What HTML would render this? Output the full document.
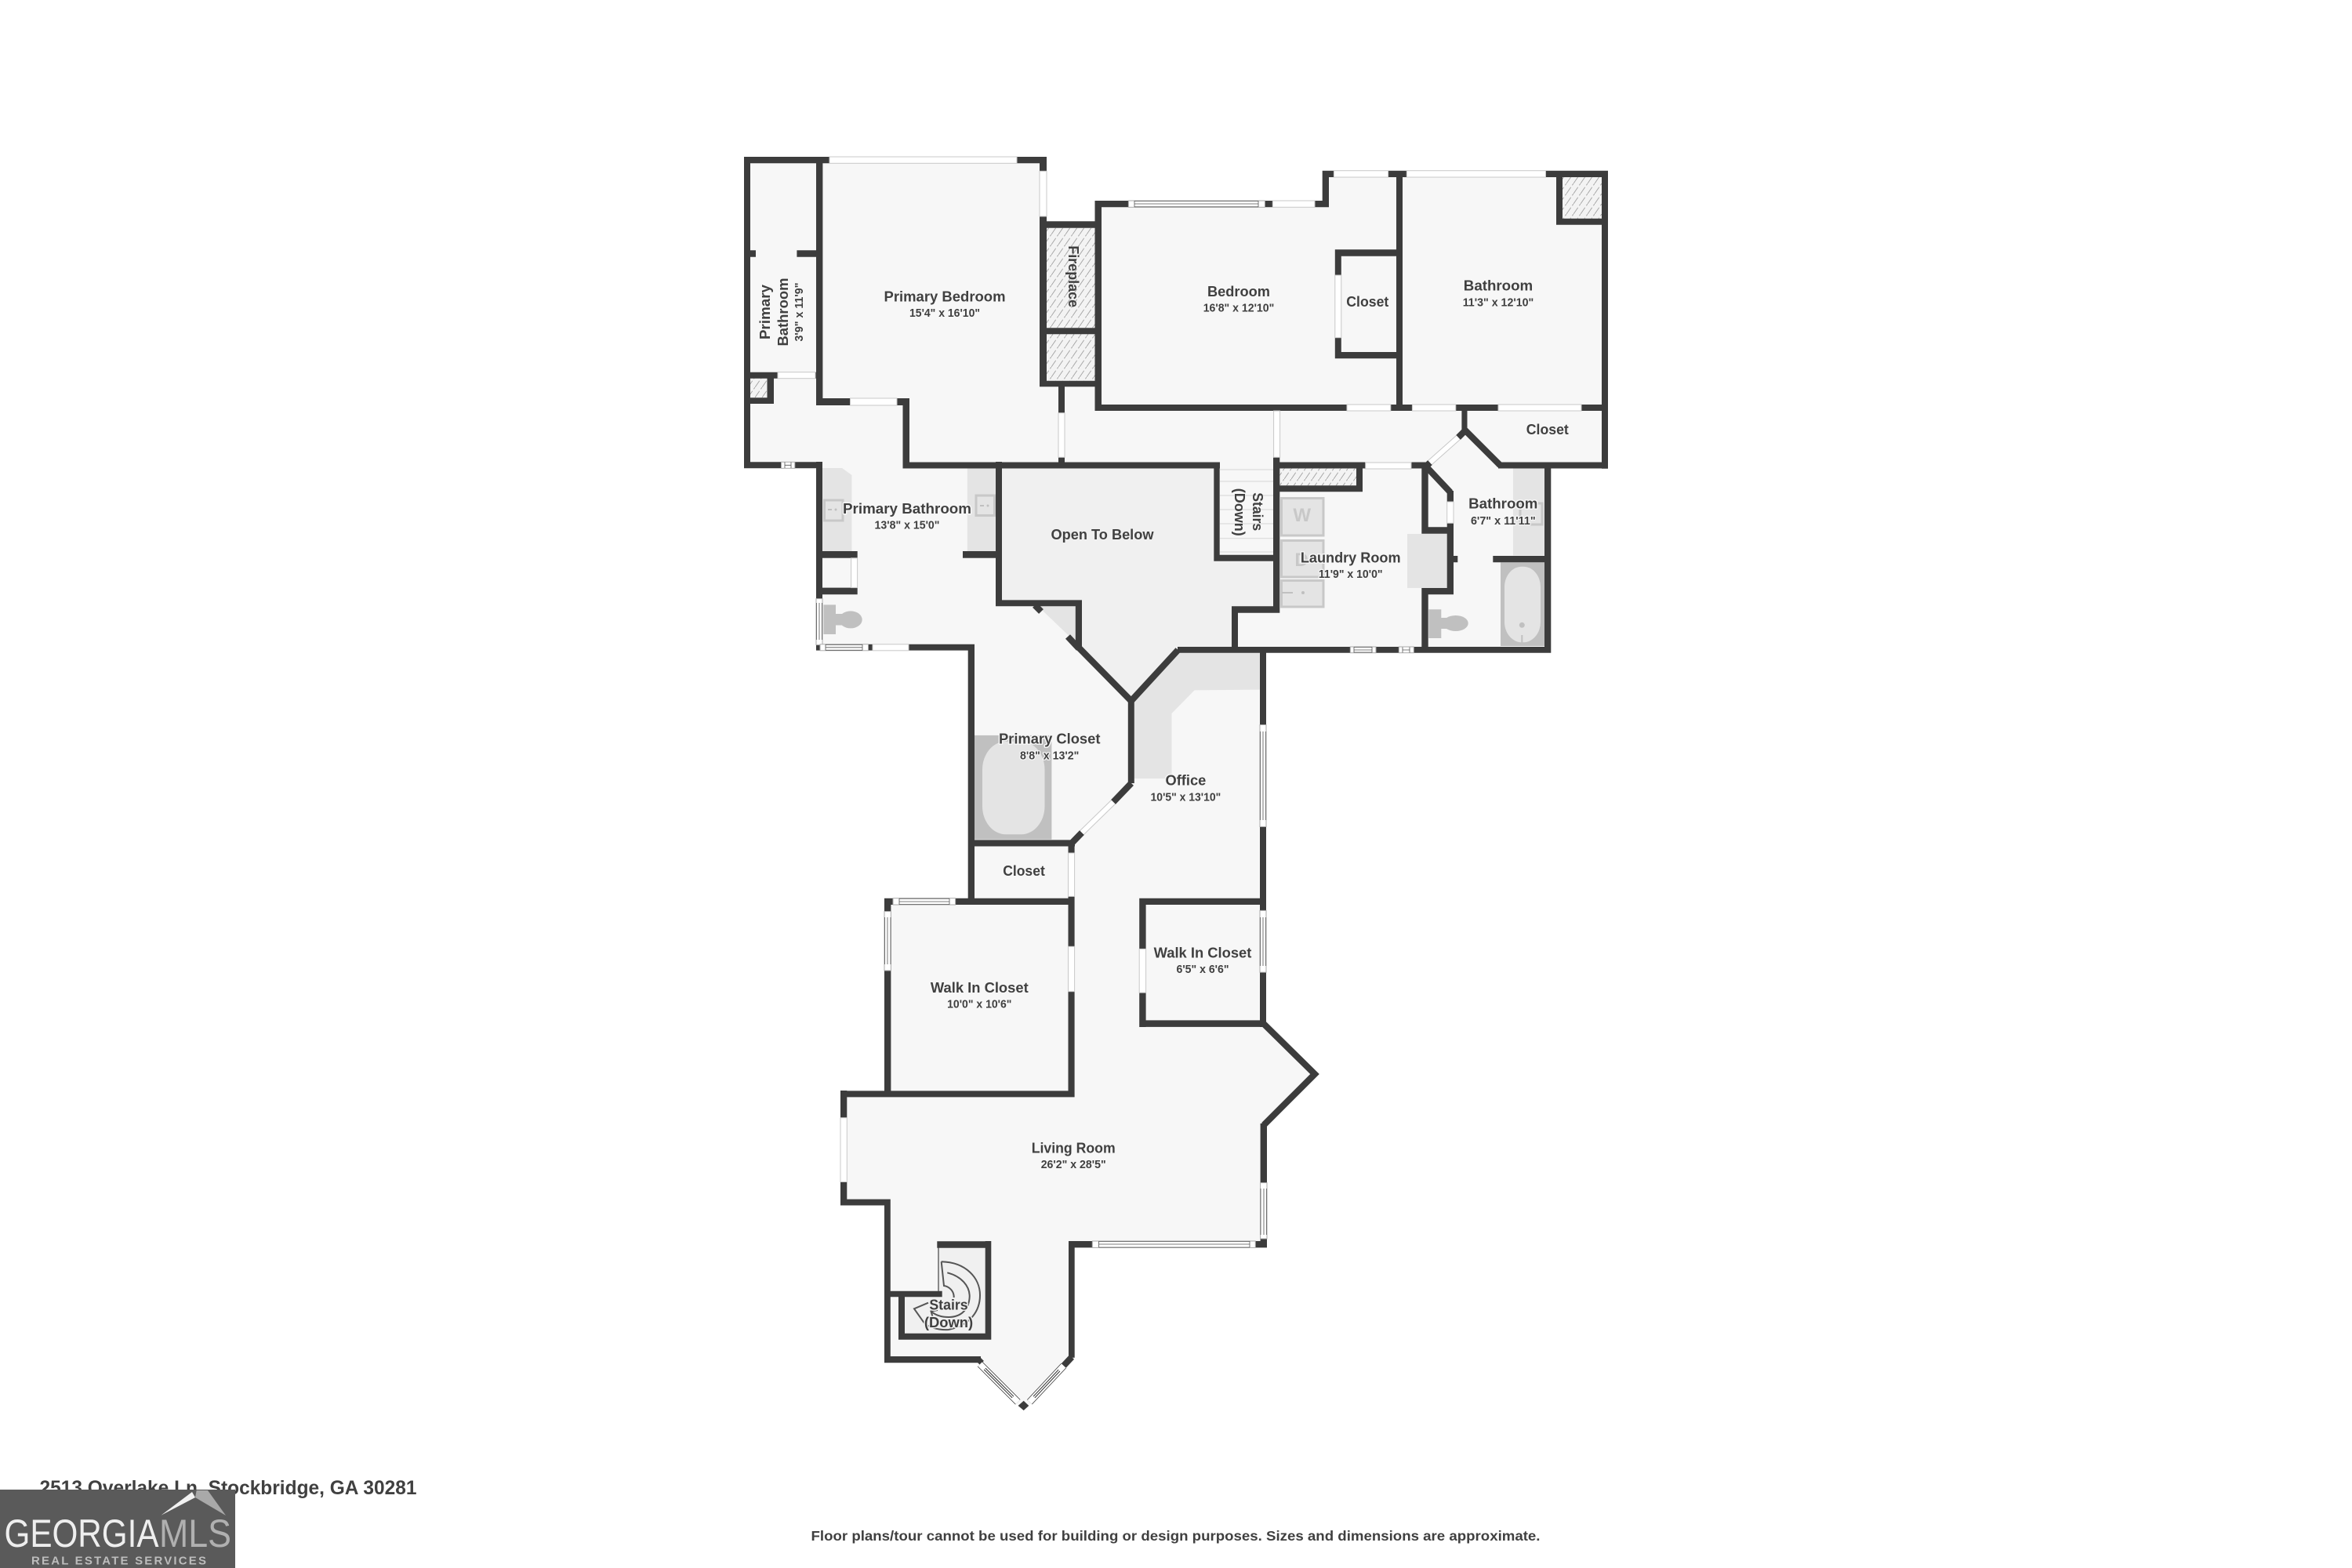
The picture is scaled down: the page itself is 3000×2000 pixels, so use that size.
<!DOCTYPE html>
<html><head><meta charset="utf-8"><title>Floor plan</title>
<style>
html,body{margin:0;padding:0;background:#fff}
svg{display:block}
text{font-family:"Liberation Sans",sans-serif;font-weight:bold;fill:#404040;text-anchor:middle}
.n{font-size:18.5px;paint-order:stroke;stroke:#f7f7f7;stroke-width:3px;stroke-linejoin:round}
.d{font-size:14.5px;paint-order:stroke;stroke:#f7f7f7;stroke-width:2.5px;stroke-linejoin:round}
.win{fill:#fff;stroke:#c8c8c8;stroke-width:1}
</style></head><body>
<svg xmlns="http://www.w3.org/2000/svg" width="3000" height="2000" viewBox="0 0 3000 2000">
<defs>
<pattern id="h" width="9" height="13" patternUnits="userSpaceOnUse">
<rect width="9" height="13" fill="#f3f3f3"/>
<path d="M0 13L9 0" stroke="#a0a0a0" stroke-width="0.9" stroke-dasharray="10 3"/>
</pattern>
</defs>
<rect width="3000" height="2000" fill="#fff"/>

<!-- floor -->
<polygon fill="#f7f7f7" points="949,200 1335,200 1335,282 1405,282 1405,256 1695,256 1695,218 2051,218 2051,597.7 1978,597.7 1978,832.7 1615,832.7 1615,1305 1682,1370 1616,1433 1616,1591 1370.5,1591 1370.5,1732 1305.7,1799 1247,1738 1128,1738 1128,1537 1072,1537 1072,1391 1128,1391 1128,1146 1235,1146 1235,829.6 1041,829.6 1041,597 949,597"/>
<!-- open to below -->
<polygon fill="#f0f0f0" points="1278,597 1548,597 1548,716 1624,716 1624,773.3 1571,773.3 1571,825 1502,825 1442,894 1375,826 1375,770 1278,770"/>

<!-- hatches -->
<rect x="1335" y="290.7" width="61.5" height="127.6" fill="url(#h)"/>
<rect x="1335" y="426" width="61.5" height="60" fill="url(#h)"/>
<rect x="957" y="482.7" width="21.5" height="24.6" fill="url(#h)"/>
<rect x="1993" y="226" width="50" height="52.7" fill="url(#h)"/>
<rect x="1632.3" y="597.3" width="97.7" height="22" fill="url(#h)"/>

<!-- cabinets -->
<g fill="#e4e4e4">
<polygon points="1049,597 1074,597 1086.5,606 1086.5,703 1049,703"/>
<rect x="1233.8" y="597.5" width="36.2" height="105.5"/>
<polygon points="1324,773.2 1371.8,773.2 1371.8,819"/>
<polygon points="1446.8,894 1502.6,832.5 1607.5,832.5 1607.5,879.6 1523.6,880.4 1494.5,910 1494.5,993 1446.8,993"/>
<rect x="1795" y="681" width="51" height="69"/>
<rect x="1930" y="597.5" width="40" height="111"/>
</g>
<!-- sinks -->
<g fill="#e4e4e4" stroke="#c8c8c8" stroke-width="3">
<rect x="1051.5" y="638" width="23.5" height="26"/>
<rect x="1245" y="632" width="23.5" height="25.5"/>
<rect x="1939" y="642" width="28" height="27"/>
<rect x="1634.5" y="635.5" width="53.5" height="47.5"/>
<rect x="1634.5" y="689.5" width="53.5" height="46.5"/>
<rect x="1634.5" y="740.5" width="53.5" height="33.5"/>
</g>
<g fill="#c0c0c0">
<rect x="1056" y="649" width="5" height="2"/><circle cx="1066" cy="650" r="1.5"/>
<rect x="1250" y="644" width="5" height="2"/><circle cx="1260" cy="645" r="1.5"/>
<rect x="1635" y="755" width="14" height="2"/><circle cx="1662" cy="756" r="2"/>
</g>
<text x="1660.7" y="665" style="font-size:24px;fill:#c8c8c8">W</text>
<text x="1660" y="722" style="font-size:24px;fill:#c8c8c8">D</text>

<!-- toilets -->
<g fill="#c0c0c0">
<rect x="1050.4" y="771.4" width="15.6" height="37.6"/><rect x="1066" y="783" width="10" height="14.5"/><ellipse cx="1085" cy="790.4" rx="14.7" ry="11"/>
<rect x="1822.3" y="777.3" width="16" height="36.7"/><rect x="1838" y="788" width="10" height="14"/><ellipse cx="1856.7" cy="795" rx="16" ry="10"/>
</g>
<!-- tubs -->
<rect x="1243" y="937.9" width="98.4" height="132.8" fill="#c0c0c0"/>
<rect x="1253" y="945.7" width="79.5" height="118.6" rx="30" ry="36" fill="#e4e4e4"/>
<rect x="1914" y="717.3" width="56" height="106.7" fill="#c0c0c0"/>
<rect x="1919" y="722.7" width="46" height="96.6" rx="22" ry="26" fill="#e4e4e4"/>
<circle cx="1941.3" cy="797.3" r="3.5" fill="#c0c0c0"/><rect x="1940.3" y="810" width="2" height="9.5" fill="#c0c0c0"/>

<!-- straight stairs -->
<rect x="1555.7" y="597.3" width="68.3" height="111" fill="#f7f7f7"/>
<path d="M1556 599H1624M1556 614H1624M1556 632H1624M1556 650H1624M1556 668H1624M1556 686.7H1624M1556 704H1624" stroke="#dcdcdc" stroke-width="1.2" fill="none"/>

<!-- spiral stair area -->
<polygon fill="#f0f0f0" points="1197,1591.7 1256.7,1591.7 1256.7,1700.7 1154,1700.7 1154,1654 1197,1654"/>
<path d="M1197 1591V1647" stroke="#666" stroke-width="1.5"/>
<g fill="none" stroke="#555" stroke-width="2">
<path d="M1200.7 1609.3C1232 1610 1250 1630 1250 1652C1250 1672 1238 1690 1210 1696C1196 1697 1182 1692 1178.3 1686.7L1166 1669.3L1184 1661.7"/>
<path d="M1200.7 1609.3L1204 1640C1211 1641 1217 1647 1216.7 1655"/>
<path d="M1208.3 1623.3C1226 1628 1237 1640 1236.7 1654C1236 1670 1226 1680 1210 1680C1200 1680 1193 1677 1188.3 1673.3"/>
<path d="M1196 1671L1187.5 1672.5L1190 1681"/>
</g>

<!-- walls -->
<path fill="#3c3c3c" d="
M949 200H1058V208.3H949Z M1297 200H1335V208.3H1297Z M949 200H957V597.3H949Z M1041 200H1049.4V517H1041Z
M957 319.3H964V327.7H957Z M1016.4 319.3H1041V327.7H1016.4Z
M949 474.7H992V482.7H949Z M1040 474.7H1049V482.7H1040Z M978.5 474.7H987V515H978.5Z M949 507.3H987V515H949Z
M1041 508H1084.5V517H1041Z M1144 508H1160V517H1144Z M1151.5 508H1160V597.3H1151.5Z
M949 589.3H996.5V597.3H949Z M1013.8 589.3H1049V597.3H1013.8Z
M1326 200H1335V218.3H1326Z M1326 276H1335V493.3H1326Z
M1326 282.3H1405V290.7H1326Z M1326 418.3H1405V426.3H1326Z M1326 485.7H1405V493.3H1326Z
M1396.5 256H1405V524H1396.5Z
M1396.5 256H1439.4V264.3H1396.5Z M1613.5 256H1623.3V264.3H1613.5Z M1677 256H1695V264.3H1677Z
M1686.7 217.7H1695V264.3H1686.7Z
M1686.7 217.7H1701.4V226H1686.7Z M1770.6 217.7H1794.3V226H1770.6Z M1971.5 217.7H2051V226H1971.5Z
M1781 217.7H1789V524H1781Z
M1702.8 318.3H1781V326.7H1702.8Z M1702.8 318.3H1710.8V351H1702.8Z M1702.8 430.7H1710.8V457.3H1702.8Z M1702.8 449H1781V457.3H1702.8Z
M1985 217.7H1993V286.7H1985Z M1985 278.7H2051V286.7H1985Z M2043 217.7H2051V597.7H2043Z
M1396.5 516H1718V524H1396.5Z M1773.8 516H1801.4V524H1773.8Z M1856.8 516H1911V524H1856.8Z M2017 516H2051V524H2017Z
M1350 493H1358V526.7H1350Z M1350 583.3H1358V597H1350Z
M1864.4 524H1871.5V550H1864.4Z
M1151.5 589.5H1556V597.5H1151.5Z M1624 589.5H1741.7V597.5H1624Z M1800 589.5H1821.7V597.5H1800Z M1911 589.5H2051V597.5H1911Z
M1970 589.7H1978.3V832.7H1970Z
M1548.3 590H1555.7V715.7H1548.3Z M1548.3 707.7H1632V715.7H1548.3Z
M1624 583.3H1632.3V781.7H1624Z M1571 773.3H1632.3V781.7H1571Z M1571 773.3H1579V832H1571Z
M1502 825H1722.3V832.7H1502Z M1755 825H1784.3V832.7H1755Z M1803.3 825H1978.3V832.7H1803.3Z
M1730 590H1738V627.3H1730Z M1632 619.3H1738V627.3H1632Z
M1813.3 590H1821.7V680.7H1813.3Z M1813.3 672.3H1854V680.7H1813.3Z M1813.3 750H1854V758.3H1813.3Z M1813.3 750H1821.7V832H1813.3Z
M1845.7 626H1854V640H1845.7Z M1845.7 667.3H1854V758.3H1845.7Z
M1854 709H1859.3V717.3H1854Z M1904.3 709H1970V717.3H1904.3Z
M1041 589H1049V763.6H1041Z M1041 703H1093.7V711.8H1041Z M1041 749.6H1093.7V758.2H1041Z
M1041 821.8H1046V829.6H1041Z M1107.5 821.8H1113V829.6H1107.5Z M1159 821.8H1243V829.6H1159Z
M1234.7 821.8H1243V1154H1234.7Z
M1270 589H1278V773.2H1270Z M1228 703H1270V711.8H1228Z M1270 765.4H1380V773.2H1270Z M1371.8 765.4H1380V826H1371.8Z
M1438.8 890H1446.8V999H1438.8Z
M1235 1071.4H1371V1079.5H1235Z M1362.5 1071.4H1370.6V1088H1362.5Z M1362.5 1143.4H1370.6V1154H1362.5Z
M1128 1145.7H1139V1154H1128Z M1218.6 1145.7H1370.6V1154H1218.6Z
M1128 1145.7H1136.4V1162.5H1128Z M1128 1238H1136.4V1399.4H1128Z
M1362.5 1154H1370.6V1207.3H1362.5Z M1362.5 1264.7H1370.6V1399.4H1362.5Z
M1072 1391.4H1370.6V1399.4H1072Z
M1453.2 1145.7H1615V1154H1453.2Z M1453.2 1301.4H1615V1309.9H1453.2Z M1453.2 1145.7H1461.6V1210.4H1453.2Z M1453.2 1266.2H1461.6V1310H1453.2Z
M1607 825H1615V924.5H1607Z M1607 1054.6H1615V1161.4H1607Z M1607 1240.2H1615V1310H1607Z
M1607.6 1433H1616V1508.6H1607.6Z M1601 1583H1616V1591.4H1601Z M1607.6 1580H1616V1591H1607.6Z
M1072 1391H1080.3V1425.7H1072Z M1072 1507.5H1080.3V1537.5H1072Z M1072 1529.6H1135.8V1537.5H1072Z M1128 1530H1135.8V1738H1128Z
M1128 1730H1251V1738.3H1128Z
M1363 1583H1393.3V1591.4H1363Z M1363 1583H1370.7V1731.7H1363Z
M1195.3 1583.3H1264.3V1591.7H1195.3Z M1256.7 1583H1264.3V1708.7H1256.7Z M1146 1700.7H1264.3V1708.7H1146Z M1146 1646.7H1154V1708H1146Z M1128 1646.7H1201.7V1654.3H1128Z
"/>
<polygon fill="#3c3c3c" points="1305.7,1786.7 1312.3,1793 1305.7,1799 1298.6,1793"/>
<g fill="none" stroke="#3c3c3c" stroke-width="8.2">
<path d="M1375.9 826L1442.8 894L1502.6 829"/>
<path d="M1443 999L1420 1023"/>
<path d="M1380 1062L1366.4 1076"/>
<path d="M1320 772L1328 780"/>
<path d="M1362 812L1376 827"/>
<path d="M1868 548L1913.5 593.5"/>
<path d="M1869 549L1860 558"/>
<path d="M1824 590L1818 596"/>
<path d="M1819 595L1850 628"/>
<path d="M1611 1305L1677 1370L1612 1435"/>
<path d="M1367 1731L1356.7 1742"/>
<path d="M1252 1733L1247 1738"/>
</g>

<!-- plain windows -->
<g>
<rect class="win" x="1058" y="200" width="239" height="8.3"/>
<rect class="win" x="1326" y="218.3" width="9" height="57.7"/>
<rect class="win" x="992" y="474.7" width="48" height="8"/>
<rect class="win" x="1084.5" y="508" width="59.5" height="9"/>
<rect class="win" x="1350" y="526.7" width="8" height="56.6"/>
<rect class="win" x="1702.8" y="351" width="8" height="79.7"/>
<rect class="win" x="1701.4" y="217.7" width="69.2" height="8.3"/>
<rect class="win" x="1794.3" y="217.7" width="177.2" height="8.3"/>
<rect class="win" x="1623.3" y="256" width="53.7" height="8.3"/>
<rect class="win" x="1718" y="516" width="55.8" height="8"/>
<rect class="win" x="1801.4" y="516" width="55.4" height="8"/>
<rect class="win" x="1911" y="516" width="106" height="8"/>
<rect class="win" x="1624.6" y="524" width="8" height="59.3"/>
<rect class="win" x="1741.7" y="590" width="58.3" height="8"/>
<rect class="win" x="1845.7" y="640" width="8.3" height="27.3"/>
<rect class="win" x="1085.6" y="711.8" width="8" height="37.8"/>
<rect class="win" x="1113" y="821.8" width="46" height="8"/>
<rect class="win" x="1362.5" y="1088" width="8.1" height="55.4"/>
<rect class="win" x="1362.5" y="1207.3" width="8.1" height="57.4"/>
<rect class="win" x="1453.2" y="1210.4" width="8.4" height="55.8"/>
<rect class="win" x="1072" y="1425.7" width="8.3" height="81.8"/>
</g>
<g fill="none">
<path d="M1420 1023L1380 1062" stroke="#c8c8c8" stroke-width="8"/><path d="M1420 1023L1380 1062" stroke="#fff" stroke-width="6"/>
<path d="M1860 558L1824 590" stroke="#c8c8c8" stroke-width="8"/><path d="M1860 558L1824 590" stroke="#fff" stroke-width="6"/>
</g>

<!-- sliding windows -->
<g fill="#fff" stroke="#aaa" stroke-width="1">
<rect x="1439.4" y="256" width="174" height="8.3"/>
<rect x="996.5" y="589.3" width="17.3" height="8"/>
<rect x="1041" y="763.6" width="8" height="59"/>
<rect x="1046" y="821.8" width="61.5" height="8"/>
<rect x="1722.3" y="825" width="32.7" height="7.7"/>
<rect x="1784.3" y="825" width="19" height="7.7"/>
<rect x="1607" y="924.5" width="8" height="130"/>
<rect x="1607" y="1161.4" width="8" height="78.8"/>
<rect x="1139" y="1145.7" width="79.6" height="8.3"/>
<rect x="1128" y="1162.5" width="8.4" height="75.5"/>
<rect x="1393.3" y="1583" width="208" height="8.4"/>
<rect x="1607.6" y="1508.6" width="8.4" height="71.4"/>
</g>
<g fill="none" stroke="#555" stroke-width="0.8">
<path d="M1447 256.5H1605M1447 260H1605M1447 263.8H1605M1447 256V264M1605 256V264"/>
<path d="M1001 589.5V597M1009 589.5V597M1001 593.3H1009"/>
<path d="M1041.5 769V816M1045 769V816M1048.5 769V816"/>
<path d="M1053 822.3H1100M1053 825.8H1100M1053 829.3H1100M1053 822V829.5M1100 822V829.5"/>
<path d="M1727 825.5H1750M1727 829H1750M1727 832H1750M1727 825V832.5M1750 825V832.5"/>
<path d="M1789 825.5V832.5M1798 825.5V832.5M1789 829H1798"/>
<path d="M1607.5 933V1046M1611 933V1046M1614.5 933V1046"/>
<path d="M1607.5 1170V1232M1611 1170V1232M1614.5 1170V1232"/>
<path d="M1147 1146.2H1211M1147 1150H1211M1147 1153.5H1211M1147 1146V1154M1211 1146V1154"/>
<path d="M1128.5 1170V1230M1132 1170V1230M1136 1170V1230"/>
<path d="M1401.6 1583.5H1594M1401.6 1587H1594M1401.6 1591H1594M1401.6 1583V1591M1594 1583V1591"/>
<path d="M1608 1516V1575M1612 1516V1575M1615.5 1516V1575"/>
</g>
<g fill="none">
<path d="M1250 1740L1298.3 1788.3" stroke="#333" stroke-width="9"/>
<path d="M1250 1740L1298.3 1788.3" stroke="#fff" stroke-width="7.5"/>
<path d="M1256 1746L1292 1782" stroke="#333" stroke-width="3.5"/>
<path d="M1256 1746L1292 1782" stroke="#fff" stroke-width="1.5"/>
<path d="M1313.3 1788.3L1356.7 1742" stroke="#333" stroke-width="9"/>
<path d="M1313.3 1788.3L1356.7 1742" stroke="#fff" stroke-width="7.5"/>
<path d="M1319 1782L1351 1748" stroke="#333" stroke-width="3.5"/>
<path d="M1319 1782L1351 1748" stroke="#fff" stroke-width="1.5"/>
</g>

<!-- labels -->
<text class="n" x="1205" y="384.5" textLength="155" lengthAdjust="spacingAndGlyphs">Primary Bedroom</text>
<text class="d" x="1205" y="404" textLength="90" lengthAdjust="spacingAndGlyphs">15'4" x 16'10"</text>
<text class="n" transform="translate(982,398) rotate(-90)" textLength="70" lengthAdjust="spacingAndGlyphs">Primary</text>
<text class="n" transform="translate(1005,398) rotate(-90)" textLength="87" lengthAdjust="spacingAndGlyphs">Bathroom</text>
<text class="d" transform="translate(1024,398) rotate(-90)" textLength="75" lengthAdjust="spacingAndGlyphs">3'9" x 11'9"</text>
<text transform="translate(1363,352.7) rotate(90)" style="font-size:18.5px" textLength="79" lengthAdjust="spacingAndGlyphs">Fireplace</text>
<text class="n" x="1580" y="378" textLength="80" lengthAdjust="spacingAndGlyphs">Bedroom</text>
<text class="d" x="1580" y="397.5" textLength="90.6" lengthAdjust="spacingAndGlyphs">16'8" x 12'10"</text>
<text class="n" x="1744.3" y="391" textLength="54" lengthAdjust="spacingAndGlyphs">Closet</text>
<text class="n" x="1911" y="370.5" textLength="88.4" lengthAdjust="spacingAndGlyphs">Bathroom</text>
<text class="d" x="1911" y="390.5" textLength="90.6" lengthAdjust="spacingAndGlyphs">11'3" x 12'10"</text>
<text class="n" x="1973.8" y="554" textLength="54" lengthAdjust="spacingAndGlyphs">Closet</text>
<text class="n" x="1157" y="655" textLength="164" lengthAdjust="spacingAndGlyphs">Primary Bathroom</text>
<text class="d" x="1157" y="674.5" textLength="83" lengthAdjust="spacingAndGlyphs">13'8" x 15'0"</text>
<text x="1406" y="688" style="font-size:18.5px" textLength="131" lengthAdjust="spacingAndGlyphs">Open To Below</text>
<text transform="translate(1598,652.7) rotate(90)" style="font-size:18.5px" textLength="49" lengthAdjust="spacingAndGlyphs">Stairs</text>
<text transform="translate(1575,653.3) rotate(90)" style="font-size:18.5px" textLength="61" lengthAdjust="spacingAndGlyphs">(Down)</text>
<text class="n" x="1722.7" y="717.5" textLength="127.7" lengthAdjust="spacingAndGlyphs">Laundry Room</text>
<text class="d" x="1722.7" y="737" textLength="81.7" lengthAdjust="spacingAndGlyphs">11'9" x 10'0"</text>
<text class="n" x="1917.3" y="648.5" textLength="88.3" lengthAdjust="spacingAndGlyphs">Bathroom</text>
<text class="d" x="1917.3" y="669" textLength="82.7" lengthAdjust="spacingAndGlyphs">6'7" x 11'11"</text>
<text class="n" x="1338.7" y="948.5" textLength="129.5" lengthAdjust="spacingAndGlyphs">Primary Closet</text>
<text class="d" x="1338.7" y="968.5" textLength="75.4" lengthAdjust="spacingAndGlyphs">8'8" x 13'2"</text>
<text class="n" x="1512.4" y="1001.5" textLength="51.8" lengthAdjust="spacingAndGlyphs">Office</text>
<text class="d" x="1512.4" y="1021.5" textLength="89.7" lengthAdjust="spacingAndGlyphs">10'5" x 13'10"</text>
<text class="n" x="1306" y="1117" textLength="53.6" lengthAdjust="spacingAndGlyphs">Closet</text>
<text class="n" x="1249.3" y="1266" textLength="124.8" lengthAdjust="spacingAndGlyphs">Walk In Closet</text>
<text class="d" x="1249.3" y="1285.5" textLength="82.3" lengthAdjust="spacingAndGlyphs">10'0" x 10'6"</text>
<text class="n" x="1534" y="1221.5" textLength="124.8" lengthAdjust="spacingAndGlyphs">Walk In Closet</text>
<text class="d" x="1534" y="1241" textLength="67" lengthAdjust="spacingAndGlyphs">6'5" x 6'6"</text>
<text class="n" x="1369.2" y="1470.5" textLength="107" lengthAdjust="spacingAndGlyphs">Living Room</text>
<text class="d" x="1369.2" y="1490" textLength="83" lengthAdjust="spacingAndGlyphs">26'2" x 28'5"</text>
<text class="n" x="1210" y="1670.5" textLength="49.3" lengthAdjust="spacingAndGlyphs" style="stroke:#f0f0f0">Stairs</text>
<text class="n" x="1210" y="1693" textLength="62.3" lengthAdjust="spacingAndGlyphs" style="stroke:#f0f0f0">(Down)</text>

<!-- footer -->
<text x="291" y="1906" style="font-size:25px" textLength="481" lengthAdjust="spacingAndGlyphs">2513 Overlake Ln, Stockbridge, GA 30281</text>
<text x="1499.5" y="1965" style="font-size:17.5px" textLength="930" lengthAdjust="spacingAndGlyphs">Floor plans/tour cannot be used for building or design purposes. Sizes and dimensions are approximate.</text>

<!-- logo -->
<rect x="0" y="1900" width="300" height="100" fill="#5a5a5a"/>
<polygon points="205.5,1932.7 245,1903 249,1910" fill="#f2f2f2"/>
<polygon points="250.7,1901 265,1901 288,1933 249,1910" fill="#a9a9a9"/>
<text x="104" y="1973" style="font-size:50px;font-weight:normal;fill:#eeeeee" textLength="197" lengthAdjust="spacingAndGlyphs">GEORGIA</text>
<text x="249" y="1973" style="font-size:50px;font-weight:normal;fill:#b0b0b0" textLength="92" lengthAdjust="spacingAndGlyphs">MLS</text>
<text x="151.5" y="1995.5" style="font-size:15px;fill:#bdbdbd" textLength="223" lengthAdjust="spacing">REAL ESTATE SERVICES</text>
</svg>
</body></html>
